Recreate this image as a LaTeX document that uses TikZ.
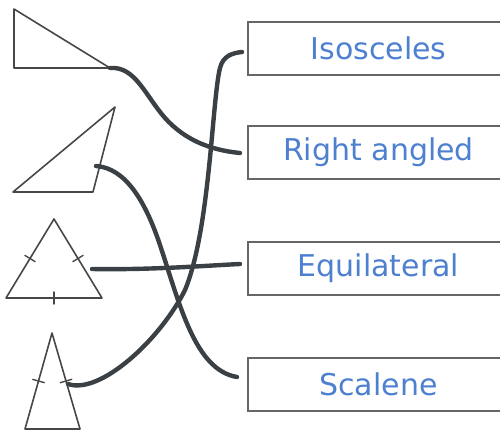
\documentclass[tikz,border=0pt]{standalone}
\usepackage{fontspec}
\setsansfont{DejaVu Sans}
\usetikzlibrary{positioning}
\definecolor{labelblue}{RGB}{78,128,208}
\definecolor{pencil}{RGB}{58,64,68}

\begin{document}
\begin{tikzpicture}[x=0.5pt, y=-0.5pt,
  figline/.style={draw=black!72, line width=0.8pt, line join=round},
  tickmark/.style={draw=black!72, line width=0.7pt, inner sep=0pt, minimum width=0pt, minimum height=6pt, sloped, midway},
  namebox/.style={draw=black!60, line width=1pt, anchor=west, minimum width=130.5pt, minimum height=26.5pt, text=labelblue, font=\sffamily\fontsize{15}{18}\selectfont},
  link/.style={draw=pencil, line width=2.2pt, line cap=round}]
\useasboundingbox (0,0) rectangle (500,430);
\clip (0,0) rectangle (500,430);

% name boxes
\node[namebox] (iso) at (247,48.5) {Isosceles};
\node[namebox] (right) at (247,152) {Right angled};
\node[namebox] (equi) at (247,268.5) {Equilateral};
\node[namebox] (scal) at (247,384) {Scalene};

% right angled triangle
\draw[figline] (14,9) -- (14,68) -- (110,68) coordinate (ratip) -- cycle;
% scalene triangle
\draw[figline] (115,107) -- (13,192) -- (93,192) -- cycle;
\coordinate (scside) at (96,166);
% equilateral triangle
\coordinate (e1) at (54,219);
\coordinate (e2) at (6,298);
\coordinate (e3) at (102,298);
\draw[figline] (e1) -- node[tickmark](et1){} (e2) -- node[tickmark](et2){} (e3) -- node[tickmark](et3){} (e1) -- cycle;
\coordinate (eqside) at (92,269);
% isosceles triangle
\coordinate (i1) at (52,333);
\coordinate (i2) at (25,429);
\coordinate (i3) at (80,429);
\draw[figline] (i1) -- node[tickmark](it1){} (i2) -- (i3) -- node[tickmark](it2){} (i1) -- cycle;
\coordinate (isside) at (68,384);

% ends of the links
\coordinate (isoend) at (242,52);
\coordinate (rightend) at (240,153);
\coordinate (equiend) at (240,264);
\coordinate (scalend) at (237,377);

\draw[link] (ratip) .. controls (135,66) and (145,95) .. (165,118) .. controls (185,140) and (210,150) .. (rightend);
\draw[link] (scside) .. controls (125,168) and (145,200) .. (160,245) .. controls (180,305) and (195,370) .. (scalend);
\draw[link] (eqside) .. controls (150,270) and (200,266) .. (equiend);
\draw[link] (isside) .. controls (100,395) and (160,340) .. (185,290) .. controls (210,230) and (212,100) .. (220,68) .. controls (223,56) and (232,53) .. (isoend);
\end{tikzpicture}
\end{document}
